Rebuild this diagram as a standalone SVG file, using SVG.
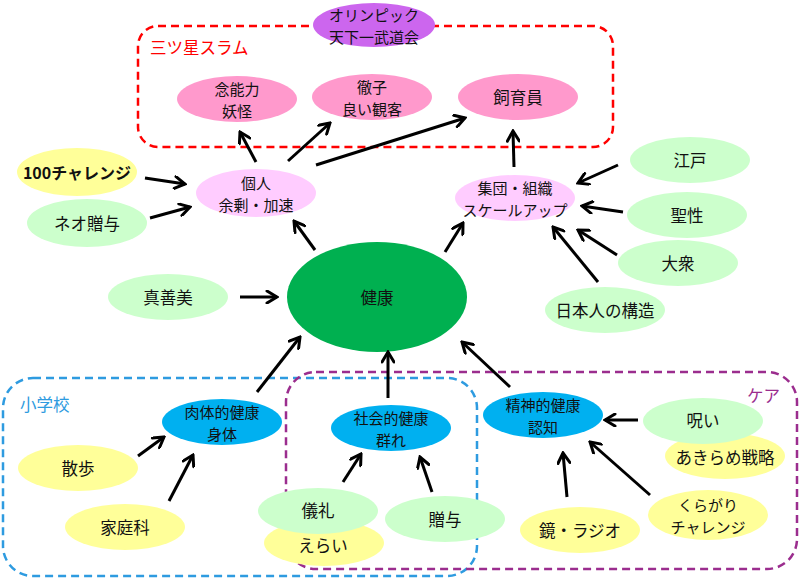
<svg xmlns="http://www.w3.org/2000/svg" width="800" height="579" viewBox="0 0 800 579">
<defs>
<marker id="arr" viewBox="0 0 14 14" refX="12" refY="7" markerWidth="14" markerHeight="14" markerUnits="userSpaceOnUse" orient="auto">
<path d="M2,1 L12,7 L2,13" fill="none" stroke="#000" stroke-width="3" stroke-linecap="round" stroke-linejoin="miter"/>
</marker>
</defs>
<style>
text{font-family:"Noto Sans CJK JP","Noto Sans",sans-serif;font-size:16.5px;fill:#111;text-anchor:middle;dominant-baseline:central}
text.two{font-size:15px}
.lbl{text-anchor:start;font-size:16.5px}
.pk{fill:#ff99cc}
.lp{fill:#ffccff}
.yl{fill:#ffff99}
.gr{fill:#ccffcc}
.bl{fill:#00b0f0}
.conn line{stroke:#000;stroke-width:3;marker-end:url(#arr)}
</style>
<rect width="800" height="579" fill="#fff"/>

<g id="frame-samsung">
<rect x="138" y="26" width="475" height="121" rx="20" fill="none" stroke="#ff0000" stroke-width="2.5" stroke-dasharray="8,5"/>
<text class="lbl" x="150" y="47" style="fill:#ff0000">三ツ星スラム</text>
</g>
<g id="frame-school">
<rect x="3" y="378" width="474" height="198" rx="30" fill="none" stroke="#2e9be0" stroke-width="2.5" stroke-dasharray="8,5"/>
<text class="lbl" x="20" y="404" style="fill:#2e9be0">小学校</text>
</g>
<g id="frame-care">
<rect x="286" y="372" width="511" height="197" rx="30" fill="none" stroke="#9b2d8e" stroke-width="2.5" stroke-dasharray="8,5"/>
<text class="lbl" x="747" y="395" style="fill:#9b2d8e">ケア</text>
</g>

<g id="olympic"><ellipse cx="374" cy="25" rx="61" ry="22" fill="#cc66ee"/><text class="two" x="374" y="14">オリンピック</text><text class="two" x="374" y="36">天下一武道会</text></g>

<g id="nen"><ellipse class="pk" cx="237" cy="99" rx="60" ry="23"/><text class="two" x="237" y="88">念能力</text><text class="two" x="237" y="110">妖怪</text></g>
<g id="tetsuko"><ellipse class="pk" cx="372" cy="97" rx="60" ry="23"/><text class="two" x="372" y="86">徹子</text><text class="two" x="372" y="108">良い観客</text></g>
<g id="shiikuin"><ellipse class="pk" cx="518" cy="97" rx="60" ry="23"/><text x="518" y="97">飼育員</text></g>

<g id="kojin"><ellipse class="lp" cx="256" cy="193" rx="60" ry="24"/><text class="two" x="256" y="182">個人</text><text class="two" x="256" y="204">余剰・加速</text></g>
<g id="shudan"><ellipse class="lp" cx="515" cy="198" rx="60" ry="23"/><text class="two" x="515" y="187">集団・組織</text><text class="two" x="515" y="209">スケールアップ</text></g>

<g id="c100"><ellipse class="yl" cx="77" cy="172" rx="60" ry="24"/><text x="77" y="172" style="font-weight:bold;font-size:16px">100チャレンジ</text></g>
<g id="neo"><ellipse class="gr" cx="87" cy="223" rx="60" ry="24"/><text x="87" y="223">ネオ贈与</text></g>
<g id="shinzenbi"><ellipse class="gr" cx="168" cy="297" rx="60" ry="23"/><text x="168" y="297">真善美</text></g>

<g id="kenko"><ellipse cx="377" cy="297" rx="90" ry="55" fill="#00b050"/><text x="377" y="297">健康</text></g>

<g id="edo"><ellipse class="gr" cx="690" cy="160" rx="60" ry="23"/><text x="690" y="160">江戸</text></g>
<g id="seisei"><ellipse class="gr" cx="687" cy="215" rx="60" ry="23"/><text x="687" y="215">聖性</text></g>
<g id="taishu"><ellipse class="gr" cx="678" cy="263" rx="60" ry="23"/><text x="678" y="263">大衆</text></g>
<g id="nihonjin"><ellipse class="gr" cx="605" cy="310" rx="60" ry="23"/><text x="605" y="310">日本人の構造</text></g>

<g id="nikutai"><ellipse class="bl" cx="222" cy="422" rx="60" ry="23"/><text class="two" x="222" y="411">肉体的健康</text><text class="two" x="222" y="433">身体</text></g>
<g id="shakai"><ellipse class="bl" cx="391" cy="428" rx="60" ry="23"/><text class="two" x="391" y="417">社会的健康</text><text class="two" x="391" y="439">群れ</text></g>
<g id="seishin"><ellipse class="bl" cx="543" cy="415" rx="60" ry="23"/><text class="two" x="543" y="404">精神的健康</text><text class="two" x="543" y="426">認知</text></g>

<g id="sanpo"><ellipse class="yl" cx="78" cy="468" rx="60" ry="23"/><text x="78" y="468">散歩</text></g>
<g id="kateika"><ellipse class="yl" cx="125" cy="527" rx="60" ry="23"/><text x="125" y="527">家庭科</text></g>
<g id="erai"><ellipse class="yl" cx="324" cy="543" rx="60" ry="23"/><text x="323" y="545">えらい</text></g>
<g id="girei"><ellipse class="gr" cx="318" cy="511" rx="60" ry="23"/><text x="318" y="510">儀礼</text></g>
<g id="zoyo"><ellipse class="gr" cx="445" cy="519" rx="60" ry="23"/><text x="445" y="519">贈与</text></g>
<g id="akirame"><ellipse class="yl" cx="725" cy="456" rx="60" ry="23"/><text x="725" y="457">あきらめ戦略</text></g>
<g id="noroi"><ellipse class="gr" cx="703" cy="421" rx="60" ry="23"/><text x="703" y="420">呪い</text></g>
<g id="kagami"><ellipse class="yl" cx="580" cy="530" rx="60" ry="23"/><text x="580" y="530">鏡・ラジオ</text></g>
<g id="kuragari"><ellipse class="yl" cx="708" cy="515" rx="60" ry="25"/><text class="two" x="708" y="504">くらがり</text><text class="two" x="708" y="526">チャレンジ</text></g>

<g id="connectors" class="conn">
<line x1="256" y1="162" x2="240" y2="132"/>
<line x1="288" y1="161" x2="330" y2="123"/>
<line x1="316" y1="165" x2="465" y2="118"/>
<line x1="514" y1="167" x2="513" y2="131"/>
<line x1="145" y1="178" x2="185" y2="184"/>
<line x1="150" y1="218" x2="190" y2="207"/>
<line x1="315" y1="250" x2="294" y2="221"/>
<line x1="240" y1="297" x2="277" y2="297"/>
<line x1="445" y1="252" x2="463" y2="223"/>
<line x1="618" y1="165" x2="578" y2="183"/>
<line x1="623" y1="212" x2="582" y2="206"/>
<line x1="617" y1="255" x2="578" y2="230"/>
<line x1="598" y1="282" x2="553" y2="227"/>
<line x1="257" y1="392" x2="300" y2="337"/>
<line x1="388" y1="398" x2="388" y2="352"/>
<line x1="510" y1="387" x2="462" y2="342"/>
<line x1="138" y1="456" x2="164" y2="437"/>
<line x1="169" y1="501" x2="193" y2="455"/>
<line x1="343" y1="482" x2="361" y2="454"/>
<line x1="432" y1="492" x2="420" y2="457"/>
<line x1="638" y1="420" x2="605" y2="420"/>
<line x1="567" y1="497" x2="563" y2="453"/>
<line x1="650" y1="495" x2="590" y2="442"/>
</g>
</svg>
